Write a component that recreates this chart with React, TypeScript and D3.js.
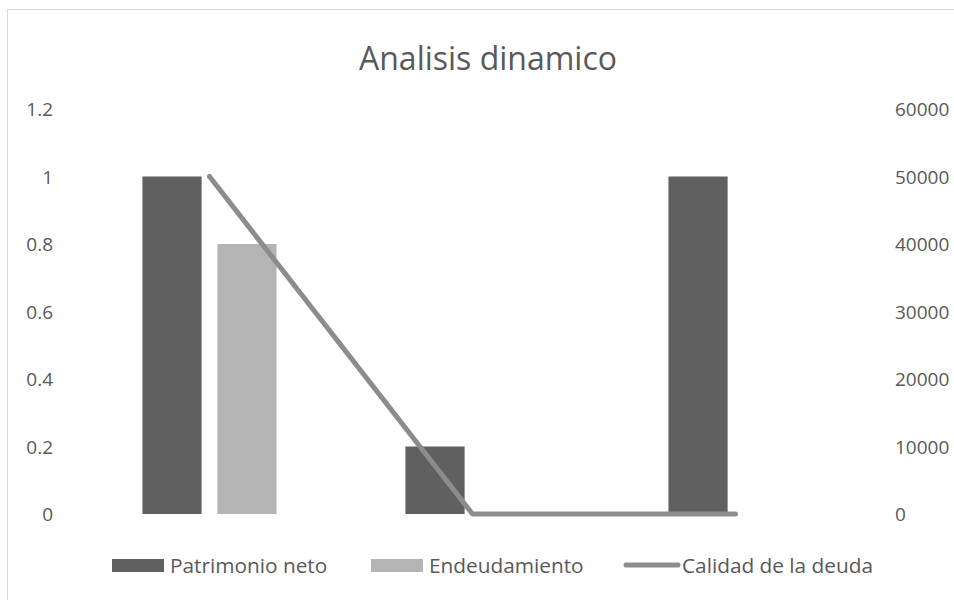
import React from "react";
import * as d3 from "d3";

const categories = ["A", "B", "C"];
const patrimonioNeto = [1, 0.2, 1];
const endeudamiento = [0.8, 0, 0];
const calidadDeuda = [50000, 0, 0];
const leftTicks = [0, 0.2, 0.4, 0.6, 0.8, 1, 1.2];
const rightTicks = [0, 10000, 20000, 30000, 40000, 50000, 60000];
const seriesNames = ["Patrimonio neto", "Endeudamiento", "Calidad de la deuda"];

const W = 954;
const H = 600;
const FONT = "'Open Sans', 'Noto Sans', sans-serif";
const TEXT = "#595959";
const C1 = "#606060";
const C2 = "#b4b4b4";
const C3 = "#8c8c8c";

export default function App() {
  const plotL = 78;
  const plotR = 867;
  const yTop = 109;
  const yBase = 514;

  const x = d3.scaleBand<string>().domain(categories).range([plotL, plotR]).padding(0);
  const yL = d3.scaleLinear().domain([0, 1.2]).range([yBase, yTop]);
  const yR = d3.scaleLinear().domain([0, 60000]).range([yBase, yTop]);

  const bw = x.bandwidth();
  const barW = bw * 0.225;
  const gap = bw * 0.06;
  const groupW = barW * 2 + gap;

  const line = d3
    .line<number>()
    .x((_, i) => (x(categories[i]) as number) + bw / 2)
    .y((d) => yR(d));

  const legendItems = [
    { name: seriesNames[0], type: "bar", color: C1, sx: 112, tx: 170 },
    { name: seriesNames[1], type: "bar", color: C2, sx: 371, tx: 429 },
    { name: seriesNames[2], type: "line", color: C3, sx: 624, tx: 682 },
  ];
  const legY = 565;

  return (
    <svg
      width={W}
      height={H}
      style={{ position: "absolute", left: 0, top: 0, background: "#fff" }}
      fontFamily={FONT}
    >
      <rect x={7.5} y={9.5} width={W} height={H} fill="#fff" stroke="#d9d9d9" strokeWidth={1} />
      <text x={488} y={57} textAnchor="middle" dominantBaseline="central" fontSize={32} fill={TEXT}>
        Analisis dinamico
      </text>

      {leftTicks.map((t) => (
        <text key={"l" + t} x={53} y={yL(t)} textAnchor="end" dominantBaseline="central" fontSize={19} fill={TEXT}>
          {String(t)}
        </text>
      ))}
      {rightTicks.map((t) => (
        <text key={"r" + t} x={895} y={yR(t)} textAnchor="start" dominantBaseline="central" fontSize={19} fill={TEXT}>
          {String(t)}
        </text>
      ))}

      {categories.map((c, i) => {
        const cx = (x(c) as number) + bw / 2;
        const gx = cx - groupW / 2;
        return (
          <g key={c}>
            {patrimonioNeto[i] > 0 && (
              <rect x={gx} y={yL(patrimonioNeto[i])} width={barW} height={yBase - yL(patrimonioNeto[i])} fill={C1} />
            )}
            {endeudamiento[i] > 0 && (
              <rect
                x={gx + barW + gap}
                y={yL(endeudamiento[i])}
                width={barW}
                height={yBase - yL(endeudamiento[i])}
                fill={C2}
              />
            )}
          </g>
        );
      })}

      <path
        d={line(calidadDeuda) as string}
        fill="none"
        stroke={C3}
        strokeWidth={5}
        strokeLinecap="round"
        strokeLinejoin="round"
      />

      {legendItems.map((it) => (
        <g key={it.name}>
          {it.type === "bar" ? (
            <rect x={it.sx} y={legY - 6} width={52} height={13} fill={it.color} />
          ) : (
            <line x1={it.sx + 2} x2={it.sx + 54} y1={legY} y2={legY} stroke={it.color} strokeWidth={5} strokeLinecap="round" />
          )}
          <text x={it.tx} y={legY} dominantBaseline="central" fontSize={20.8} fill={TEXT}>
            {it.name}
          </text>
        </g>
      ))}
    </svg>
  );
}
